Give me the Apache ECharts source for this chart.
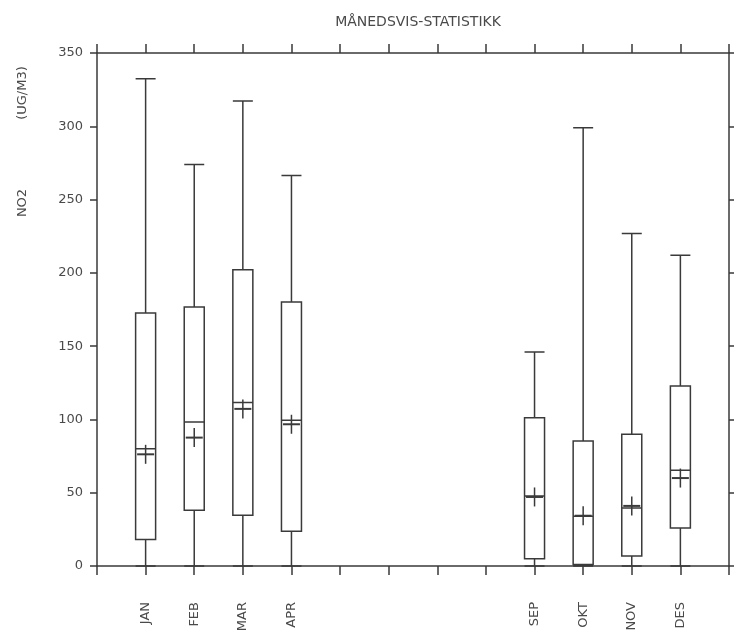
<!DOCTYPE html>
<html><head><meta charset="utf-8">
<script src="https://cdn.jsdelivr.net/npm/echarts@6/dist/echarts.min.js"></script>
<style>html,body{margin:0;padding:0;background:#fff}#c{width:734px;height:642px}</style>
</head><body><div id="c"></div>
<script>
// Category positions along the x axis (0 and 13 are the empty ends of the axis)
const categories = ['', 'JAN', 'FEB', 'MAR', 'APR', 'MAI', 'JUN', 'JUL', 'AUG', 'SEP', 'OKT', 'NOV', 'DES', ''];
// Months that have statistics
const months = ['JAN', 'FEB', 'MAR', 'APR', 'SEP', 'OKT', 'NOV', 'DES'];
const minVals    = [0, 0, 0, 0, 0, 0, 0, 0];
const q1Vals     = [18, 38, 34.6, 23.7, 5, 1, 6.8, 25.9];
const medianVals = [80, 98.3, 111.5, 99.4, 47.8, 34, 39.5, 65.3];
const q3Vals     = [172.6, 176.7, 202.2, 180.1, 101.2, 85.3, 89.9, 122.8];
const maxVals    = [332.5, 274, 317.3, 266.4, 146, 299, 226.8, 212];
const meanVals   = [76.2, 87.6, 107.2, 96.7, 47.1, 34.3, 41, 60];
const yTicks = [0, 50, 100, 150, 200, 250, 300, 350];
const titleText = 'MÅNEDSVIS-STATISTIKK';
const yNameParts = ['NO2', '(UG/M3)'];

const INK = '#3a3a3a';
const TXT = '#4a4a4a';
const FONT = 'DejaVu Sans';

const boxData = months.map((m, i) => [categories.indexOf(m), minVals[i], q1Vals[i], medianVals[i], q3Vals[i], maxVals[i]]);
const meanData = months.map((m, i) => [categories.indexOf(m), meanVals[i]]);

const chart = echarts.init(document.getElementById('c'));
chart.setOption({
  animation: false,
  backgroundColor: '#fff',
  grid: { left: 97, right: 5, top: 53, bottom: 76, containLabel: false },
  xAxis: [
    {
      type: 'category', data: categories, boundaryGap: false, position: 'bottom',
      axisLine: { onZero: false, lineStyle: { color: INK, width: 1.5 } },
      axisTick: { show: true, length: 9, interval: 0, lineStyle: { color: INK, width: 1.5 } },
      axisLabel: {
        interval: 0, rotate: 90, margin: 36, color: TXT, fontFamily: FONT, fontSize: 13,
        formatter: v => months.includes(v) ? v : ''
      },
      splitLine: { show: false }
    },
    {
      type: 'category', data: categories, boundaryGap: false, position: 'top',
      axisLine: { onZero: false, lineStyle: { color: INK, width: 1.5 } },
      axisTick: { show: true, length: 9, interval: 0, lineStyle: { color: INK, width: 1.5 } },
      axisLabel: { show: false },
      splitLine: { show: false }
    }
  ],
  yAxis: [
    {
      type: 'value', min: yTicks[0], max: yTicks[yTicks.length - 1], interval: 50, position: 'left',
      axisLine: { show: true, onZero: false, lineStyle: { color: INK, width: 1.5 } },
      axisTick: { show: true, length: 7, lineStyle: { color: INK, width: 1.5 } },
      axisLabel: { margin: 14, color: TXT, fontFamily: FONT, fontSize: 13 },
      splitLine: { show: false }
    },
    {
      type: 'value', min: yTicks[0], max: yTicks[yTicks.length - 1], interval: 50, position: 'right',
      axisLine: { show: true, onZero: false, lineStyle: { color: INK, width: 1.5 } },
      axisTick: { show: true, length: 7, lineStyle: { color: INK, width: 1.5 } },
      axisLabel: { show: false },
      splitLine: { show: false }
    }
  ],
  graphic: [
    { type: 'text', x: 418, y: 22, style: { text: titleText, fill: TXT, font: '14px "' + FONT + '"', textAlign: 'center', textVerticalAlign: 'middle' } },
    { type: 'text', x: 23, y: 93, rotation: Math.PI / 2, style: { text: yNameParts[1], fill: TXT, font: '13px "' + FONT + '"', textAlign: 'center', textVerticalAlign: 'middle' } },
    { type: 'text', x: 23, y: 203, rotation: Math.PI / 2, style: { text: yNameParts[0], fill: TXT, font: '13px "' + FONT + '"', textAlign: 'center', textVerticalAlign: 'middle' } }
  ],
  series: [
    {
      type: 'boxplot', xAxisIndex: 0, yAxisIndex: 0,
      data: boxData,
      encode: { x: 0, y: [1, 2, 3, 4, 5] },
      boxWidth: [20, 20],
      itemStyle: { color: '#fff', borderColor: INK, borderWidth: 1.5 },
      emphasis: { disabled: true }
    },
    {
      type: 'custom', xAxisIndex: 0, yAxisIndex: 0,
      data: meanData,
      encode: { x: 0, y: 1 },
      z: 5,
      renderItem: function (params, api) {
        const p = api.coord([api.value(0), api.value(1)]);
        return {
          type: 'group',
          children: [
            { type: 'line', shape: { x1: p[0] - 8.5, y1: p[1], x2: p[0] + 8.5, y2: p[1] }, style: { stroke: INK, lineWidth: 2 } },
            { type: 'line', shape: { x1: p[0], y1: p[1] - 9.5, x2: p[0], y2: p[1] + 9.5 }, style: { stroke: INK, lineWidth: 1.5 } }
          ]
        };
      }
    }
  ]
});
</script>
</body></html>
